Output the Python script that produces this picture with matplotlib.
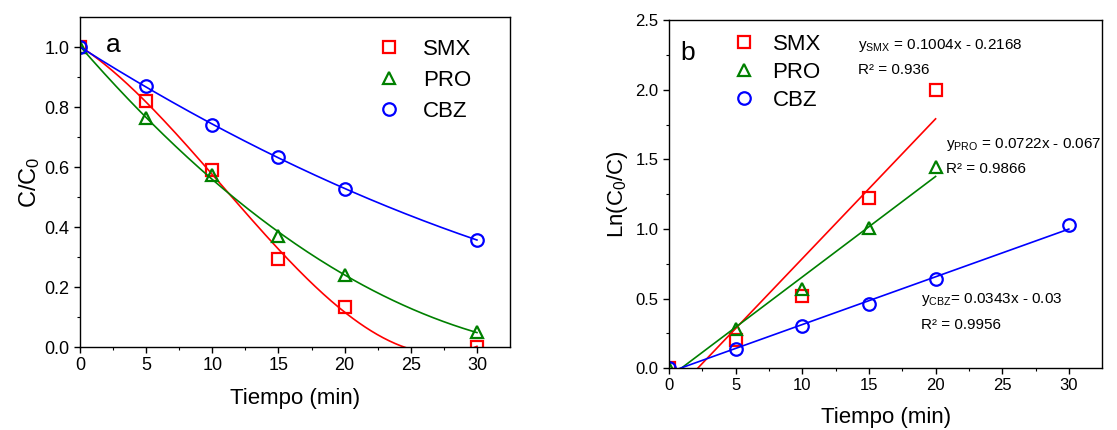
import numpy as np
import matplotlib
matplotlib.use("Agg")
import matplotlib.pyplot as plt

plt.rcParams['font.family'] = ['Liberation Sans', 'DejaVu Sans']
plt.rcParams['mathtext.fontset'] = 'custom'
plt.rcParams['mathtext.rm'] = 'Liberation Sans'
plt.rcParams['mathtext.it'] = 'Liberation Sans'

# panel a: C/C0 vs time
t_a = [0, 5, 10, 15, 20, 30]
smx_a = [1.0, 0.82, 0.59, 0.295, 0.135, 0.0]
pro_a = [1.0, 0.765, 0.575, 0.37, 0.24, 0.05]
cbz_a = [1.0, 0.87, 0.74, 0.633, 0.528, 0.357]

# panel b: Ln(C0/C) vs time
t_b = [0, 5, 10, 15, 20]
smx_b = [0.0, 0.20, 0.52, 1.22, 2.0]
pro_b = [0.0, 0.28, 0.57, 1.01, 1.445]
t_cbz_b = [0, 5, 10, 15, 20, 30]
cbz_b = [0.0, 0.135, 0.30, 0.46, 0.64, 1.03]

# linear fits (slope, intercept, end time)
fit_smx = (0.1004, -0.2168, 20)
fit_pro = (0.0722, -0.067, 20)
fit_cbz = (0.0343, -0.03, 30)

names = ['SMX', 'PRO', 'CBZ']
colors = ['#ff0000', '#008000', '#0000ff']
markers = ['s', '^', 'o']

fig = plt.figure(figsize=(11.17, 4.3), dpi=100)
ax1 = fig.add_axes([0.0716, 0.193, 0.385, 0.767])
ax2 = fig.add_axes([0.599, 0.144, 0.3877, 0.809])

mk = dict(markersize=9, markerfacecolor='none', markeredgewidth=1.6, linestyle='none')

# panel a
tt = np.linspace(0, 30, 200)
for y, c, m, deg, n in zip([smx_a, pro_a, cbz_a], colors, markers, [3, 2, 2], names):
    p = np.polyfit(t_a, y, deg)
    ax1.plot(tt, np.polyval(p, tt), color=c, lw=1.2)
    ax1.plot(t_a, y, marker=m, color=c, label=n, **mk)

ax1.set_xlim(0, 32.5)
ax1.set_ylim(0, 1.1)
ax1.set_xticks([0, 5, 10, 15, 20, 25, 30])
ax1.set_xticks(np.arange(2.5, 32.5, 5), minor=True)
ax1.set_yticks([0.0, 0.2, 0.4, 0.6, 0.8, 1.0])
ax1.set_yticks(np.arange(0.1, 1.1, 0.2), minor=True)
ax1.set_xlabel('Tiempo (min)', fontsize=16, labelpad=10)
ax1.set_ylabel('C/C$_0$', fontsize=17, labelpad=2)
ax1.text(0.06, 0.915, 'a', transform=ax1.transAxes, fontsize=19, va='center')
ax1.legend(loc='upper left', bbox_to_anchor=(0.635, 0.975), frameon=False, fontsize=16,
           handletextpad=0.55, labelspacing=0.45, borderaxespad=0.2)

# panel b
for y, t, c, m, n in zip([smx_b, pro_b, cbz_b], [t_b, t_b, t_cbz_b], colors, markers, names):
    ax2.plot(t, y, marker=m, color=c, label=n, **mk)
for (a, b, tend), c in zip([fit_smx, fit_pro, fit_cbz], colors):
    xl = np.array([0, tend])
    ax2.plot(xl, a * xl + b, color=c, lw=1.2)

ax2.set_xlim(0, 32.5)
ax2.set_ylim(0, 2.5)
ax2.set_xticks([0, 5, 10, 15, 20, 25, 30])
ax2.set_xticks(np.arange(2.5, 32.5, 5), minor=True)
ax2.set_yticks([0.0, 0.5, 1.0, 1.5, 2.0, 2.5])
ax2.set_yticks(np.arange(0.25, 2.5, 0.5), minor=True)
ax2.set_xlabel('Tiempo (min)', fontsize=16, labelpad=10)
ax2.set_ylabel('Ln(C$_0$/C)', fontsize=16)
ax2.text(0.025, 0.905, 'b', transform=ax2.transAxes, fontsize=19, va='center')
ax2.legend(loc='upper left', bbox_to_anchor=(0.09, 1.0), frameon=False, fontsize=16,
           handletextpad=0.3, labelspacing=0.33, borderaxespad=0.2)

ax2.text(14.2, 2.32, 'y$_{\\mathrm{SMX}}$ = 0.1004x - 0.2168', fontsize=11, va='center')
ax2.text(14.2, 2.14, 'R² = 0.936', fontsize=11, va='center')
ax2.text(20.8, 1.61, 'y$_{\\mathrm{PRO}}$ = 0.0722x - 0.067', fontsize=11, va='center')
ax2.text(20.8, 1.43, 'R² = 0.9866', fontsize=11, va='center')
ax2.text(18.9, 0.49, 'y$_{\\mathrm{CBZ}}$= 0.0343x - 0.03', fontsize=11, va='center')
ax2.text(18.9, 0.31, 'R² = 0.9956', fontsize=11, va='center')

for ax, fs in [(ax1, 13), (ax2, 12)]:
    ax.tick_params(which='major', direction='out', length=4, width=1, labelsize=fs)
    ax.tick_params(which='minor', direction='out', length=2.5, width=0.8)
    for s in ax.spines.values():
        s.set_linewidth(1.0)

fig.savefig('out.png', dpi=100)
